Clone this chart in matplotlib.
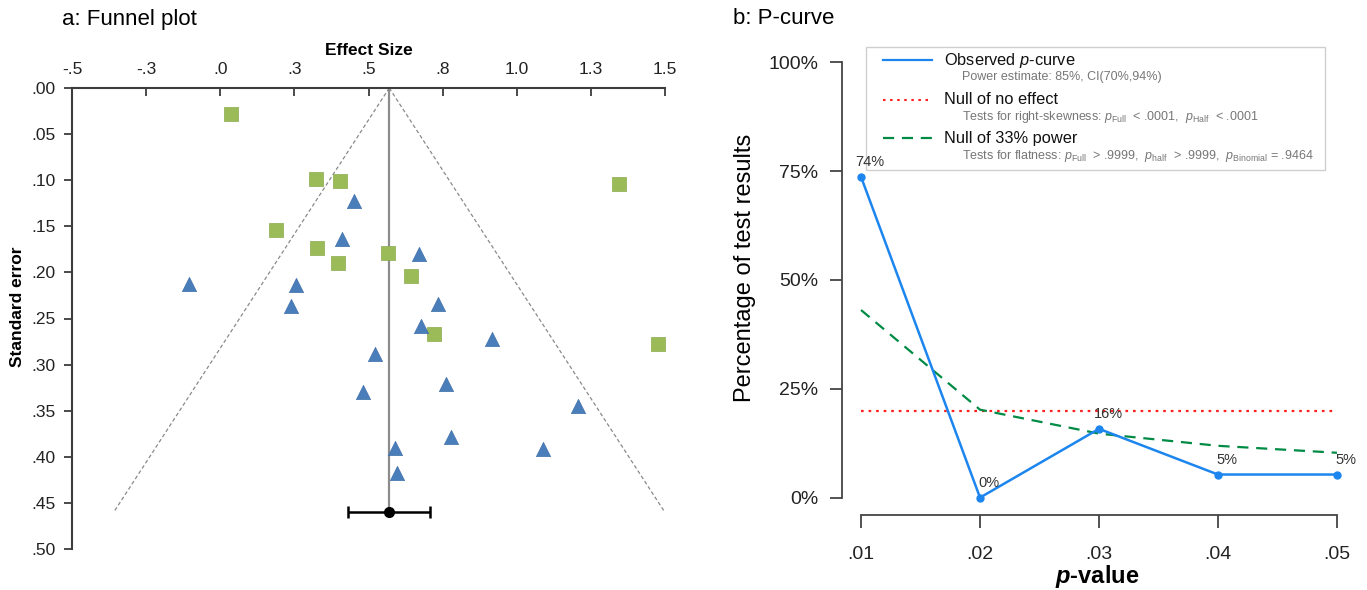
import matplotlib
matplotlib.use("Agg")
import matplotlib.pyplot as plt
from matplotlib.patches import Rectangle

plt.rcParams['font.family'] = ['Liberation Sans', 'DejaVu Sans']
plt.rcParams['mathtext.fontset'] = 'custom'
plt.rcParams['mathtext.rm'] = 'Liberation Sans'
plt.rcParams['mathtext.it'] = 'Liberation Sans:italic'
plt.rcParams['mathtext.bf'] = 'Liberation Sans:bold'
plt.rcParams['mathtext.bfit'] = 'Liberation Sans:italic:bold'

# ---- funnel plot data ----
sq_effect = [0.036, 0.324, 0.405, 1.344, 0.187, 0.327, 0.397, 0.565, 0.643, 0.721, 1.478]
sq_se = [0.028, 0.099, 0.101, 0.104, 0.154, 0.174, 0.190, 0.179, 0.204, 0.267, 0.278]

tri_effect = [0.451, 0.412, 0.670, -0.104, 0.255, 0.238, 0.735, 0.676, 0.918, 0.522,
              0.480, 0.760, 1.207, 0.778, 0.589, 1.087, 0.597]
tri_se = [0.123, 0.164, 0.180, 0.213, 0.214, 0.236, 0.234, 0.258, 0.272, 0.288,
          0.330, 0.321, 0.345, 0.379, 0.390, 0.392, 0.418]

pooled_effect = 0.570
pooled_se = 0.460
pooled_ci = [0.430, 0.709]
funnel_z = 2.02

es_ticks = [-0.5, -0.25, 0.0, 0.25, 0.5, 0.75, 1.0, 1.25, 1.5]
es_labels = ["-.5", "-.3", ".0", ".3", ".5", ".8", "1.0", "1.3", "1.5"]
se_ticks = [0.0, 0.05, 0.10, 0.15, 0.20, 0.25, 0.30, 0.35, 0.40, 0.45, 0.50]
se_labels = [".00", ".05", ".10", ".15", ".20", ".25", ".30", ".35", ".40", ".45", ".50"]

# ---- p-curve data ----
p_values = [0.01, 0.02, 0.03, 0.04, 0.05]
observed = [0.737, 0.0, 0.158, 0.053, 0.053]
observed_labels = ["74%", "0%", "16%", "5%", "5%"]
null_no_effect = [0.20, 0.20, 0.20, 0.20, 0.20]
null_33 = [0.431, 0.202, 0.147, 0.119, 0.103]
p_labels = [".01", ".02", ".03", ".04", ".05"]
pct_ticks = [0, 0.25, 0.5, 0.75, 1.0]
pct_labels = ["0%", "25%", "50%", "75%", "100%"]

fig = plt.figure(figsize=(13.67, 5.90), dpi=100)

# ================= a: funnel plot =================
ax1 = fig.add_axes([72 / 1367, 1 - 549 / 590, (665 - 72) / 1367, (549 - 88) / 590])
axc = "#3c3c3c"

apex = pooled_effect
ax1.plot([apex, apex - funnel_z * pooled_se], [0, pooled_se], ls=(0, (3, 2)), color="#8a8a8a", lw=0.9)
ax1.plot([apex, apex + funnel_z * pooled_se], [0, pooled_se], ls=(0, (3, 2)), color="#8a8a8a", lw=0.9)
ax1.plot([pooled_effect, pooled_effect], [0, pooled_se], color="#8c8c8c", lw=1.6, zorder=2)

ax1.scatter(sq_effect, sq_se, marker="s", s=95, color="#9BBB59", edgecolor="#8aaa4a", lw=0.5, zorder=3)
ax1.scatter(tri_effect, tri_se, marker="^", s=105, color="#4A7EBB", edgecolor="#3f70aa", lw=0.5, zorder=3)

ax1.errorbar([pooled_effect], [pooled_se], xerr=[[pooled_effect - pooled_ci[0]], [pooled_ci[1] - pooled_effect]],
             fmt="o", color="black", ms=7, lw=1.8, capsize=4, capthick=1.8, zorder=4)

ax1.set_xlim(-0.5, 1.5)
ax1.set_ylim(0.5, 0.0)
ax1.xaxis.tick_top()
ax1.xaxis.set_label_position("top")
ax1.set_xticks(es_ticks)
ax1.set_xticklabels(es_labels)
ax1.set_yticks(se_ticks)
ax1.set_yticklabels(se_labels)
ax1.tick_params(axis="x", direction="in", length=6, width=1.3, colors=axc, labelsize=12.5, pad=8, labelcolor="#222")
ax1.tick_params(axis="y", direction="out", length=6, width=1.3, colors=axc, labelsize=12.5, pad=6, labelcolor="#222")
for s in ["bottom", "right"]:
    ax1.spines[s].set_visible(False)
for s in ["top", "left"]:
    ax1.spines[s].set_color(axc)
    ax1.spines[s].set_linewidth(1.5)
ax1.set_xlabel("Effect Size", fontsize=12.5, fontweight="bold", labelpad=5)
fig.text(18 / 1367, 1 - 307 / 590, "Standard error", rotation=90, fontsize=12.5,
         fontweight="bold", ha="center", va="center")
fig.text(62 / 1367, 1 - 19 / 590, "a: Funnel plot", fontsize=16, ha="left", va="center")

# ================= b: p-curve =================
ax2 = fig.add_axes([842 / 1367, 1 - 515 / 590, (1356 - 842) / 1367, (515 - 45) / 590])
blue = "#1C86EE"
ax2.plot(p_values, null_no_effect, color="#FF2020", ls=(0, (1.2, 2.2)), lw=1.6)
ax2.plot(p_values, null_33, color="#008B45", ls=(0, (5, 3.5)), lw=1.6)
ax2.plot(p_values, observed, color=blue, lw=1.8, marker="o", ms=5)
for x, y, lab in zip(p_values, observed, observed_labels):
    ax2.annotate(lab, (x, y), xytext=(9, 15), textcoords="offset pixels",
                 ha="center", va="center", fontsize=10.5, color="#333", zorder=10)

ax2.set_xlim(0.0084, 0.0516)
ax2.set_ylim(-0.04, 1.04)
ax2.set_xticks(p_values)
ax2.set_xticklabels(p_labels)
ax2.set_yticks(pct_ticks)
ax2.set_yticklabels(pct_labels)
ax2.spines["top"].set_visible(False)
ax2.spines["right"].set_visible(False)
ax2.spines["left"].set_bounds(0, 1)
ax2.spines["bottom"].set_bounds(0.01, 0.05)
for s in ["left", "bottom"]:
    ax2.spines[s].set_color("#444")
    ax2.spines[s].set_linewidth(1.3)
ax2.tick_params(axis="both", length=9, width=1.3, colors="#444", labelsize=14, labelcolor="#222")
ax2.tick_params(axis="y", pad=8)
ax2.tick_params(axis="x", pad=13)

fig.text(745 / 1367, 1 - 268 / 590, "Percentage of test results", rotation=90, fontsize=17,
         ha="center", va="center")
fig.text(1097 / 1367, 1 - 577 / 590, r"$\mathbfit{p}$-value", fontsize=17, fontweight="bold",
         ha="center", va="center")
fig.text(733 / 1367, 1 - 19 / 590, "b: P-curve", fontsize=16, ha="left", va="center")

# legend box drawn by hand
tr = ax2.transAxes
ax2.add_patch(Rectangle((0.047, 0.734), 0.893, 0.262, transform=tr, fill=True,
                        facecolor="white", edgecolor="#cfcfcf", lw=1.0, zorder=5))
rows = [0.968, 0.883, 0.802]
subs = [0.932, 0.847, 0.764]
styles = [dict(color=blue, ls="-", lw=1.6),
          dict(color="#FF2020", ls=(0, (1.2, 2.2)), lw=1.5),
          dict(color="#008B45", ls=(0, (5, 3.5)), lw=1.6)]
main_txt = [r"Observed $\it{p}$-curve", "Null of no effect", "Null of 33% power"]
sub_txt = [r"Power estimate: 85%, CI(70%,94%)",
           r"Tests for right-skewness: $\it{p}_{\rm Full}$  < .0001,  $\it{p}_{\rm Half}$  < .0001",
           r"Tests for flatness: $\it{p}_{\rm Full}$  > .9999,  $\it{p}_{\rm half}$  > .9999,  $\it{p}_{\rm Binomial}$ = .9464"]
for ry, sy, st, mt, stt in zip(rows, subs, styles, main_txt, sub_txt):
    ax2.plot([0.080, 0.175], [ry, ry], transform=tr, zorder=6, **st)
    ax2.text(0.198, ry, mt, transform=tr, fontsize=11.8, va="center", ha="left", zorder=6, color="#111")
    ax2.text(0.233, sy, stt, transform=tr, fontsize=9, va="center", ha="left", zorder=6, color="#777")

fig.savefig("out.png", dpi=100)
